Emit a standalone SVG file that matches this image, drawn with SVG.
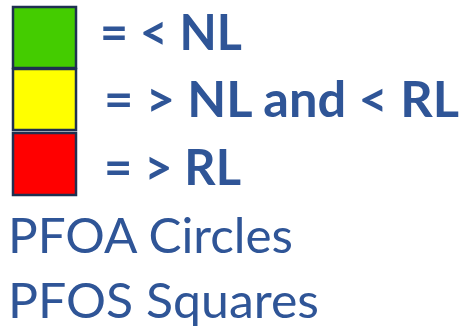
<svg xmlns="http://www.w3.org/2000/svg" width="466" height="334" viewBox="0 0 466 334">
<style>
.sw{stroke:#1f3050;stroke-width:2.5}
.b{font-family:Lato,"Open Sans",sans-serif;font-weight:bold;font-size:49px;fill:#2f5597}
.r{font-family:Lato,"Open Sans",sans-serif;font-size:49px;fill:#2f5597}
</style>
<rect x="0" y="0" width="466" height="334" fill="#ffffff"/>
<g id="legend-green"><rect class="sw" x="13" y="7" width="63" height="61" fill="#44cc00"/><text class="b" x="100" y="50" textLength="142" lengthAdjust="spacingAndGlyphs">= &lt; NL</text></g>
<g id="legend-yellow"><rect class="sw" x="13" y="69" width="63" height="61" fill="#ffff00"/><text class="b" x="104" y="117" textLength="355" lengthAdjust="spacingAndGlyphs">= &gt; NL and &lt; RL</text></g>
<g id="legend-red"><rect class="sw" x="13" y="133" width="63" height="62" fill="#ff0000"/><text class="b" x="104" y="185" textLength="137" lengthAdjust="spacingAndGlyphs">= &gt; RL</text></g>
<g id="labels">
<text class="r" x="8" y="253" textLength="285" lengthAdjust="spacingAndGlyphs">PFOA Circles</text>
<text class="r" x="8" y="318" textLength="311" lengthAdjust="spacingAndGlyphs">PFOS Squares</text>
</g>
<g id="connectors"/>
</svg>
